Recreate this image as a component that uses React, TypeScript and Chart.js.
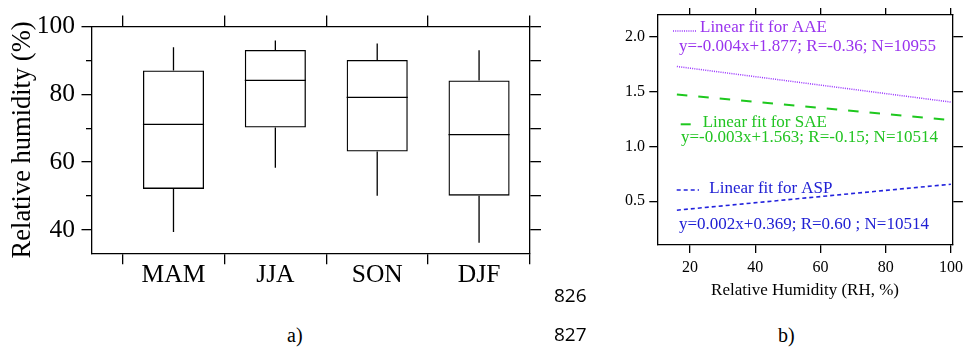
import React, { useEffect, useRef } from 'react';
import { Chart, registerables } from 'chart.js';

Chart.register(...registerables);

// ---------- Panel a) data: seasonal relative humidity box plot ----------
const seasons = ['MAM', 'JJA', 'SON', 'DJF'];
const whiskerLow = [39.4, 58.3, 50.1, 36.2];
const quartile1 = [52.1, 70.2, 63.1, 50.1];
const medians = [71.1, 84.1, 79.1, 68.1];
const quartile3 = [87.0, 93.1, 90.1, 84.1];
const whiskerHigh = [93.9, 95.9, 95.0, 93.0];
const rhMajorTicks = [40, 60, 80, 100];
const rhMinorTicks = [50, 70, 90];
const rhRightTicks = [40, 50, 60, 70, 80, 90, 100];
const seasonBoundaries = [0.5, 1.5, 2.5, 3.5, 4.5];
const seasonTicks = [0.5, 1, 1.5, 2, 2.5, 3, 3.5, 4, 4.5];

// ---------- Panel b) data: linear fits vs relative humidity ----------
const fitX = [16, 100];
const aaeFit = [1.73, 1.405];
const saeFit = [1.475, 1.24];
const aspFit = [0.418, 0.655];
const rhTicksB = [20, 40, 60, 80, 100];
const aeTicksB = [0.5, 1.0, 1.5, 2.0];
const fitNames = ['Linear fit for AAE', 'Linear fit for SAE', 'Linear fit for ASP'];
const fitEquations = [
  'y=-0.004x+1.877; R=-0.36; N=10955',
  'y=-0.003x+1.563; R=-0.15; N=10514',
  'y=0.002x+0.369; R=0.60 ; N=10514',
];

// ---------- styles ----------
const SERIF = '"Liberation Serif", "Times New Roman", serif';
const lineColors = ['#9933ff', '#1ec81e', '#2222dd'];
const textColors = ['#9933ee', '#22c422', '#2020d4'];
const lineDashes = [[1, 1.2], [10.5, 11], [4, 3]];
const lineWidths = [1.5, 2, 1.6];
// offsets (px) from chart-area top-left: [sampleX0, sampleX1, sampleY, nameX, nameY, eqX, eqY]
const legendLayout = [
  [15.7, 38.7, 16, 42.7, 13, 21.7, 31.5],
  [23.4, 33.4, 109.3, 45.4, 107.2, 23.7, 123],
  [19.4, 41.7, 175, 52, 173.3, 21.7, 210],
];

const setTicks = (vals: number[]) => (scale: any) => {
  scale.ticks = vals.map((v) => ({ value: v }));
};
const fixW = (w: number) => (scale: any) => {
  scale.width = w;
};
const fixH = (h: number) => (scale: any) => {
  scale.height = h;
};
const frameGrid = (len: number, extra: any = {}) => ({
  display: true,
  drawOnChartArea: false,
  drawTicks: true,
  tickLength: len,
  color: '#000',
  tickColor: '#000',
  lineWidth: 1.3,
  tickWidth: 1.3,
  offset: false,
  ...extra,
});
const frameBorder = { display: true, color: '#000', width: 1.3 };
const noBorder = { display: false };

const boxWhiskerPlugin = {
  id: 'boxWhiskers',
  afterDatasetsDraw(chart: any) {
    const { ctx } = chart;
    const meta = chart.getDatasetMeta(0);
    const ys = chart.scales.y;
    ctx.save();
    ctx.strokeStyle = '#000';
    ctx.lineWidth = 1.3;
    meta.data.forEach((bar: any, i: number) => {
      const { x, width } = bar.getProps(['x', 'width'], true);
      ctx.beginPath();
      ctx.moveTo(x - width / 2, ys.getPixelForValue(medians[i]));
      ctx.lineTo(x + width / 2, ys.getPixelForValue(medians[i]));
      ctx.moveTo(x, ys.getPixelForValue(quartile3[i]));
      ctx.lineTo(x, ys.getPixelForValue(whiskerHigh[i]));
      ctx.moveTo(x, ys.getPixelForValue(quartile1[i]));
      ctx.lineTo(x, ys.getPixelForValue(whiskerLow[i]));
      ctx.stroke();
    });
    ctx.restore();
  },
};

const fitLegendPlugin = {
  id: 'fitLegend',
  afterDatasetsDraw(chart: any) {
    const { ctx, chartArea } = chart;
    const L = chartArea.left;
    const T = chartArea.top;
    ctx.save();
    fitNames.forEach((name, i) => {
      const [sx0, sx1, sy, nx, ny, ex, ey] = legendLayout[i];
      ctx.strokeStyle = lineColors[i];
      ctx.lineWidth = lineWidths[i];
      ctx.setLineDash(lineDashes[i]);
      ctx.beginPath();
      ctx.moveTo(L + sx0, T + sy);
      ctx.lineTo(L + sx1, T + sy);
      ctx.stroke();
      ctx.setLineDash([]);
      ctx.fillStyle = textColors[i];
      ctx.font = `17px ${SERIF}`;
      ctx.textAlign = 'left';
      ctx.textBaseline = 'middle';
      ctx.fillText(name, L + nx, T + ny);
      ctx.fillText(fitEquations[i], L + ex, T + ey);
    });
    ctx.restore();
  },
};

export default function App() {
  const refA = useRef<HTMLCanvasElement | null>(null);
  const refB = useRef<HTMLCanvasElement | null>(null);

  useEffect(() => {
    Chart.defaults.font.family = SERIF;
    Chart.defaults.color = '#000';

    const chartA = new Chart(refA.current as HTMLCanvasElement, {
      type: 'bar',
      data: {
        datasets: [
          {
            data: seasons.map((_, i) => ({ x: i + 1, y: [quartile1[i], quartile3[i]] })) as any,
            backgroundColor: 'rgba(0,0,0,0)',
            borderColor: '#000',
            borderWidth: 1.3,
            borderSkipped: false,
            barPercentage: 1.2,
            categoryPercentage: 1.0,
            xAxisID: 'x',
            yAxisID: 'y',
          },
        ],
      },
      options: {
        responsive: false,
        animation: false,
        devicePixelRatio: 1,
        layout: { padding: 0 },
        events: [],
        plugins: { legend: { display: false }, tooltip: { enabled: false } },
        scales: {
          x: {
            type: 'linear',
            position: 'bottom',
            min: 0.2,
            max: 4.5,
            offset: false,
            afterBuildTicks: setTicks(seasonTicks),
            afterFit: fixH(46.7),
            ticks: {
              autoSkip: false,
              maxRotation: 0,
              padding: 0,
              color: '#000',
              font: { size: 25.5, lineHeight: 0.85 },
              callback: (v: any) => (Number.isInteger(v) ? seasons[v - 1] : ''),
            },
            grid: frameGrid(11, {
              tickColor: (c: any) =>
                c.tick && Number.isInteger(c.tick.value) ? 'rgba(0,0,0,0)' : '#000',
            }),
            border: frameBorder,
          },
          xTop: {
            type: 'linear',
            position: 'top',
            min: 0.2,
            max: 4.5,
            offset: false,
            afterBuildTicks: setTicks(seasonBoundaries),
            afterFit: fixH(26.5),
            ticks: { display: false },
            grid: frameGrid(11),
            border: frameBorder,
          },
          y: {
            type: 'linear',
            position: 'left',
            weight: 0,
            min: 33.1,
            max: 100,
            afterBuildTicks: setTicks(rhMajorTicks),
            afterFit: fixW(92),
            ticks: {
              padding: 6.5,
              color: '#000',
              font: { size: 25.5 },
              callback: (v: any) => String(v),
            },
            grid: frameGrid(10.5),
            border: frameBorder,
            title: {
              display: true,
              text: 'Relative humidity (%)',
              color: '#000',
              font: { size: 26.5 },
              padding: { top: 7, bottom: 0 },
            },
          },
          yMinor: {
            type: 'linear',
            position: 'left',
            weight: -1,
            min: 33.1,
            max: 100,
            afterBuildTicks: setTicks(rhMinorTicks),
            afterFit: fixW(0),
            ticks: { display: false },
            grid: frameGrid(6),
            border: noBorder,
          },
          yRight: {
            type: 'linear',
            position: 'right',
            min: 33.1,
            max: 100,
            afterBuildTicks: setTicks(rhRightTicks),
            afterFit: fixW(30),
            ticks: { display: false },
            grid: frameGrid(11),
            border: frameBorder,
          },
        } as any,
      },
      plugins: [boxWhiskerPlugin],
    });

    const series = [aaeFit, saeFit, aspFit];
    const chartB = new Chart(refB.current as HTMLCanvasElement, {
      type: 'line',
      data: {
        datasets: series.map((vals, i) => ({
          label: fitNames[i],
          data: fitX.map((x, j) => ({ x, y: vals[j] })),
          borderColor: lineColors[i],
          borderWidth: lineWidths[i],
          borderDash: lineDashes[i],
          pointRadius: 0,
          tension: 0,
          fill: false,
          xAxisID: 'x',
          yAxisID: 'y',
        })) as any,
      },
      options: {
        responsive: false,
        animation: false,
        devicePixelRatio: 1,
        layout: { padding: 0 },
        events: [],
        plugins: { legend: { display: false }, tooltip: { enabled: false } },
        scales: {
          x: {
            type: 'linear',
            position: 'bottom',
            min: 10,
            max: 100.6,
            offset: false,
            afterBuildTicks: setTicks(rhTicksB),
            afterFit: fixH(65),
            ticks: {
              autoSkip: false,
              maxRotation: 0,
              padding: 5,
              color: '#000',
              font: { size: 16 },
              callback: (v: any) => String(v),
            },
            grid: frameGrid(8),
            border: frameBorder,
            title: {
              display: true,
              text: 'Relative Humidity (RH, %)',
              color: '#000',
              font: { size: 17 },
              padding: { top: 0, bottom: 9 },
            },
          },
          xTop: {
            type: 'linear',
            position: 'top',
            min: 10,
            max: 100.6,
            offset: false,
            afterBuildTicks: setTicks(rhTicksB),
            afterFit: fixH(15),
            ticks: { display: false },
            grid: frameGrid(7),
            border: frameBorder,
          },
          y: {
            type: 'linear',
            position: 'left',
            min: 0.1,
            max: 2.2,
            afterBuildTicks: setTicks(aeTicksB),
            afterFit: fixW(57.3),
            ticks: {
              padding: 4.3,
              color: '#000',
              font: { size: 16 },
              callback: (v: any) => Number(v).toFixed(1),
            },
            grid: frameGrid(8),
            border: frameBorder,
          },
          yRight: {
            type: 'linear',
            position: 'right',
            min: 0.1,
            max: 2.2,
            afterBuildTicks: setTicks(aeTicksB),
            afterFit: fixW(14.7),
            ticks: { display: false },
            grid: frameGrid(10),
            border: frameBorder,
          },
        } as any,
      },
      plugins: [fitLegendPlugin],
    });

    return () => {
      chartA.destroy();
      chartB.destroy();
    };
  }, []);

  const serifLabel = {
    position: 'absolute' as const,
    fontFamily: SERIF,
    fontSize: 20,
    lineHeight: '20px',
    color: '#000',
    whiteSpace: 'nowrap' as const,
  };
  const sansLabel = {
    position: 'absolute' as const,
    fontFamily: '"Open Sans", "Noto Sans", sans-serif',
    fontSize: 19,
    lineHeight: '19px',
    color: '#000',
    whiteSpace: 'nowrap' as const,
  };

  return (
    <div
      style={{
        position: 'absolute',
        left: 0,
        top: 0,
        width: 968,
        height: 347,
        overflow: 'hidden',
        background: '#fff',
      }}
    >
      <canvas
        ref={refA}
        width={560}
        height={300}
        style={{ position: 'absolute', left: 0, top: 0, width: 560, height: 300 }}
      />
      <canvas
        ref={refB}
        width={368}
        height={310}
        style={{ position: 'absolute', left: 600, top: 0, width: 368, height: 310 }}
      />
      <span style={{ ...serifLabel, left: 287, top: 325 }}>a)</span>
      <span style={{ ...serifLabel, left: 778, top: 325.3 }}>b)</span>
      <span style={{ ...sansLabel, left: 554, top: 286.4 }}>826</span>
      <span style={{ ...sansLabel, left: 554, top: 325.4 }}>827</span>
    </div>
  );
}
